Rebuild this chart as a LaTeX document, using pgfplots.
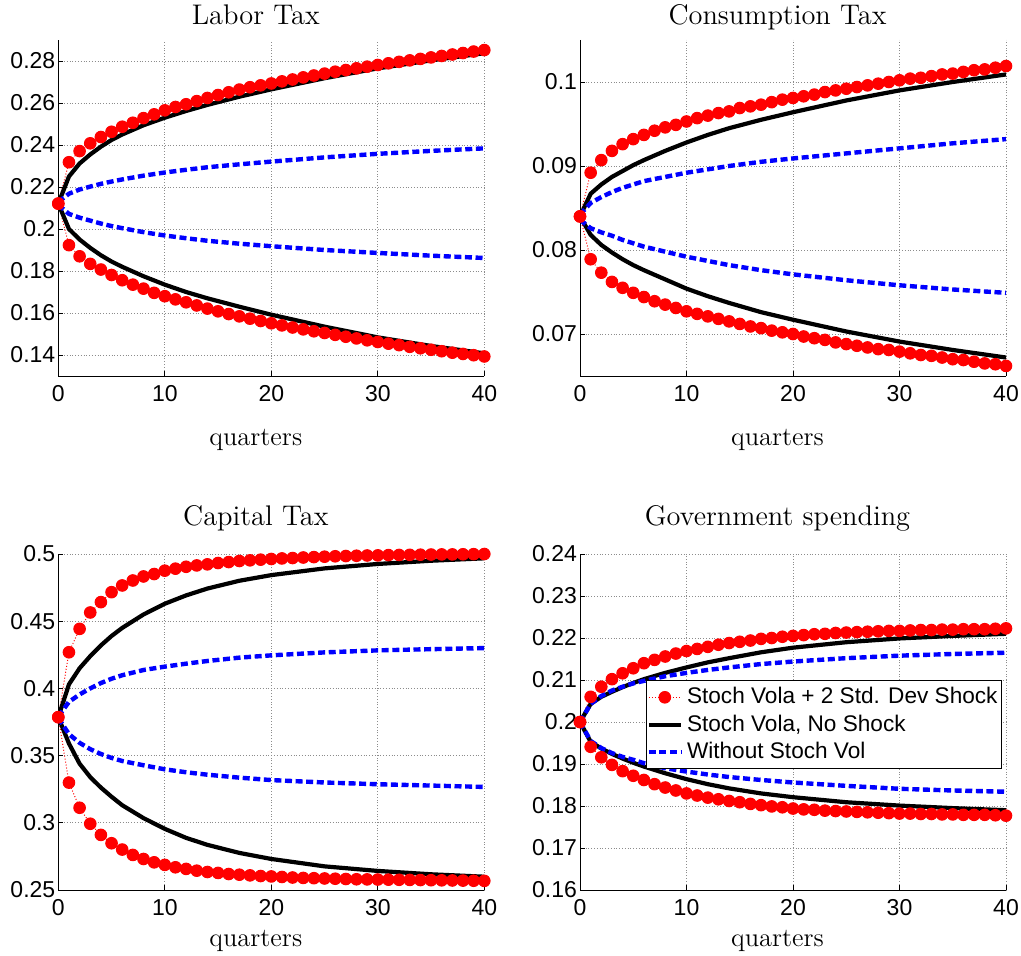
\documentclass[border=0pt]{standalone}
\usepackage{pgfplots}
\pgfplotsset{compat=1.18}
\usepackage{pgfplotstable}
\usepackage{fontspec}
\newfontfamily\hv{Liberation Sans}

% ---------- Labor tax ----------
\pgfplotstableread{
x ru rl
0 0.2121 0.2121
1 0.2318 0.1923
2 0.2371 0.1870
3 0.2408 0.1834
4 0.2438 0.1807
5 0.2463 0.1781
6 0.2487 0.1756
7 0.2506 0.1735
8 0.2528 0.1716
9 0.2546 0.1696
10 0.2565 0.1680
11 0.2581 0.1665
12 0.2594 0.1651
13 0.2609 0.1636
14 0.2624 0.1621
15 0.2638 0.1608
16 0.2651 0.1595
17 0.2664 0.1584
18 0.2675 0.1573
19 0.2684 0.1562
20 0.2693 0.1551
21 0.2703 0.1541
22 0.2712 0.1531
23 0.2722 0.1522
24 0.2731 0.1513
25 0.2740 0.1505
26 0.2749 0.1496
27 0.2757 0.1487
28 0.2765 0.1479
29 0.2773 0.1470
30 0.2781 0.1462
31 0.2789 0.1454
32 0.2796 0.1447
33 0.2803 0.1439
34 0.2810 0.1432
35 0.2817 0.1425
36 0.2824 0.1418
37 0.2831 0.1411
38 0.2838 0.1405
39 0.2845 0.1399
40 0.2852 0.1393
}\labred
\pgfplotstableread{
x su sl wu wl
0 0.2121 0.2121 0.2128 0.2115
1 0.2250 0.2000 0.2168 0.2072
2 0.2312 0.1950 0.2188 0.2054
3 0.2355 0.1910 0.2202 0.2040
4 0.2392 0.1875 0.2215 0.2026
5 0.2424 0.1845 0.2226 0.2014
6 0.2450 0.1820 0.2236 0.2004
8 0.2494 0.1775 0.2254 0.1985
10 0.2530 0.1735 0.2269 0.1969
12 0.2562 0.1700 0.2282 0.1956
14 0.2591 0.1670 0.2294 0.1944
17 0.2630 0.1630 0.2308 0.1930
20 0.2665 0.1592 0.2321 0.1918
25 0.2718 0.1535 0.2341 0.1900
30 0.2765 0.1484 0.2358 0.1886
35 0.2803 0.1443 0.2372 0.1873
40 0.2837 0.1408 0.2384 0.1862
}\labline

% ---------- Consumption tax ----------
\pgfplotstableread{
x ru rl
0 0.0840 0.0840
1 0.0892 0.0789
2 0.0907 0.0773
3 0.0918 0.0762
4 0.0926 0.0755
5 0.0932 0.0749
6 0.0937 0.0744
7 0.0942 0.0739
8 0.0946 0.0735
9 0.0949 0.0731
10 0.0953 0.0727
11 0.0957 0.0724
12 0.0960 0.0721
13 0.0963 0.0718
14 0.0965 0.0715
15 0.0969 0.0712
16 0.0971 0.0709
17 0.0973 0.0707
18 0.0976 0.0704
19 0.0979 0.0702
20 0.0981 0.0700
21 0.0983 0.0697
22 0.0985 0.0695
23 0.0988 0.0693
24 0.0990 0.0690
25 0.0992 0.0688
26 0.0994 0.0686
27 0.0996 0.0684
28 0.0998 0.0682
29 0.1000 0.0681
30 0.1002 0.0679
31 0.1004 0.0677
32 0.1005 0.0675
33 0.1007 0.0674
34 0.1009 0.0672
35 0.1010 0.0670
36 0.1012 0.0669
37 0.1014 0.0667
38 0.1015 0.0665
39 0.1017 0.0664
40 0.1019 0.0662
}\conred
\pgfplotstableread{
x su sl wu wl
0 0.0840 0.0840 0.0842 0.0836
1 0.0867 0.0818 0.0856 0.0826
2 0.0878 0.0806 0.0863 0.0821
3 0.0887 0.0797 0.0869 0.0817
4 0.0894 0.0789 0.0874 0.0812
5 0.0901 0.0782 0.0878 0.0808
6 0.0907 0.0776 0.0882 0.0804
8 0.0918 0.0765 0.0887 0.0798
10 0.0928 0.0754 0.0892 0.0792
12 0.0937 0.0745 0.0896 0.0787
14 0.0945 0.0737 0.0900 0.0782
17 0.0955 0.0726 0.0905 0.0776
20 0.0964 0.0717 0.0909 0.0771
25 0.0978 0.0703 0.0915 0.0764
30 0.0990 0.0691 0.0921 0.0758
35 0.1000 0.0681 0.0927 0.0753
40 0.1009 0.0672 0.0932 0.0749
}\conline

% ---------- Capital tax ----------
\pgfplotstableread{
x ru rl
0 0.3786 0.3786
1 0.4269 0.3299
2 0.4443 0.3112
3 0.4565 0.2993
4 0.4642 0.2910
5 0.4716 0.2848
6 0.4766 0.2801
7 0.4803 0.2761
8 0.4833 0.2731
9 0.4851 0.2706
10 0.4876 0.2687
11 0.4891 0.2669
12 0.4905 0.2657
13 0.4915 0.2644
14 0.4923 0.2634
15 0.4933 0.2627
16 0.4940 0.2619
17 0.4948 0.2614
18 0.4953 0.2609
19 0.4958 0.2604
20 0.4963 0.2601
21 0.4967 0.2597
22 0.4970 0.2593
23 0.4974 0.2590
24 0.4977 0.2588
25 0.4980 0.2586
26 0.4983 0.2584
27 0.4985 0.2582
28 0.4987 0.2580
29 0.4989 0.2579
30 0.4990 0.2578
31 0.4992 0.2577
32 0.4993 0.2576
33 0.4994 0.2575
34 0.4995 0.2574
35 0.4996 0.2573
36 0.4997 0.2572
37 0.4997 0.2571
38 0.4998 0.2570
39 0.4999 0.2569
40 0.5000 0.2568
}\capred
\pgfplotstableread{
x su sl wu wl
0 0.3786 0.3786 0.3790 0.3780
1 0.4030 0.3590 0.3900 0.3660
2 0.4150 0.3440 0.3955 0.3595
3 0.4240 0.3340 0.4000 0.3548
4 0.4320 0.3262 0.4040 0.3512
5 0.4390 0.3194 0.4072 0.3483
6 0.4450 0.3131 0.4098 0.3460
8 0.4550 0.3035 0.4137 0.3428
10 0.4630 0.2955 0.4162 0.3398
12 0.4692 0.2888 0.4184 0.3376
14 0.4743 0.2836 0.4204 0.3358
17 0.4801 0.2776 0.4229 0.3336
20 0.4843 0.2731 0.4246 0.3318
25 0.4893 0.2676 0.4268 0.3300
30 0.4926 0.2642 0.4283 0.3287
35 0.4950 0.2617 0.4292 0.3277
40 0.4968 0.2599 0.4300 0.3267
}\capline

% ---------- Government spending ----------
\pgfplotstableread{
x ru rl
0 0.2000 0.2000
1 0.2060 0.1941
2 0.2084 0.1916
3 0.2102 0.1898
4 0.2116 0.1883
5 0.2128 0.1872
6 0.2140 0.1862
7 0.2148 0.1852
8 0.2156 0.1844
9 0.2163 0.1837
10 0.2169 0.1830
11 0.2174 0.1825
12 0.2179 0.1820
13 0.2184 0.1816
14 0.2188 0.1812
15 0.2191 0.1809
16 0.2194 0.1805
17 0.2198 0.1802
18 0.2200 0.1799
19 0.2203 0.1797
20 0.2205 0.1794
21 0.2207 0.1792
22 0.2209 0.1791
23 0.2210 0.1789
24 0.2212 0.1788
25 0.2213 0.1787
26 0.2214 0.1786
27 0.2215 0.1785
28 0.2216 0.1784
29 0.2217 0.1783
30 0.2217 0.1782
31 0.2218 0.1782
32 0.2219 0.1781
33 0.2219 0.1781
34 0.2220 0.1780
35 0.2220 0.1780
36 0.2221 0.1779
37 0.2221 0.1779
38 0.2221 0.1779
39 0.2222 0.1778
40 0.2223 0.1777
}\govred
\pgfplotstableread{
x su sl wu wl
0 0.2000 0.2000 0.2000 0.2000
1 0.2043 0.1953 0.2043 0.1955
2 0.2060 0.1937 0.2062 0.1938
3 0.2072 0.1924 0.2075 0.1926
4 0.2083 0.1913 0.2084 0.1917
5 0.2093 0.1903 0.2092 0.1910
6 0.2102 0.1894 0.2098 0.1902
8 0.2117 0.1878 0.2109 0.1890
10 0.2130 0.1864 0.2117 0.1882
12 0.2142 0.1852 0.2124 0.1875
14 0.2152 0.1842 0.2130 0.1869
17 0.2166 0.1830 0.2138 0.1862
20 0.2177 0.1821 0.2144 0.1856
25 0.2190 0.1809 0.2152 0.1848
30 0.2199 0.1801 0.2158 0.1841
35 0.2205 0.1795 0.2162 0.1837
40 0.2210 0.1790 0.2165 0.1834
}\govline

\pgfplotsset{
  irf/.style={
    scale only axis, width=213pt, height=168pt,
    xmin=0, xmax=40, xtick={0,10,20,30,40},
    axis x line*=bottom, axis y line*=left,
    axis line style={line width=0.5pt},
    grid=major,
    major grid style={densely dotted, black!45, line width=0.4pt},
    tick align=inside, major tick length=2.5pt,
    tick style={black, line width=0.4pt},
    /pgf/number format/assume math mode=true,
    ticklabel style={font=\hv\fontsize{11.5}{13}\selectfont},
    yticklabel style={/pgf/number format/fixed, /pgf/number format/precision=2, xshift=2pt},
    xticklabel style={yshift=-1pt},
    xlabel={quarters},
    every axis title/.style={at={(0.5,1)}, anchor=base, xshift=-7.75pt,
      font=\fontsize{14.2}{16}\selectfont},
    every axis x label/.style={at={(0.5,0)}, anchor=base, xshift=-7.75pt,
      font=\fontsize{13.2}{15}\selectfont},
    legend image code/.code={%
      \draw[mark repeat=2, mark phase=2] plot coordinates {(0pt,0pt) (8pt,0pt) (16pt,0pt)};},
    clip=false,
  },
  shock/.style={red, densely dotted, line width=0.5pt, mark=*, mark size=2.9pt,
    mark options={solid, fill=red, draw=red}},
  noshock/.style={black, solid, line width=2.1pt, line join=round},
  novol/.style={blue, line width=2.2pt, dash pattern=on 3.5pt off 1.8pt},
}

\begin{document}
\begin{tikzpicture}
\useasboundingbox (0pt,0pt) rectangle (510.5pt,477.5pt);

\begin{axis}[irf, at={(29.15pt,289.5pt)}, anchor=south west,
  ymin=0.13, ymax=0.29, ytick={0.14,0.16,0.18,0.2,0.22,0.24,0.26,0.28},
  title={Labor Tax}, title style={yshift=7.5pt},
  xlabel style={yshift=-34.5pt}]
\addplot[shock] table[x=x, y=ru] {\labred};
\addplot[noshock] table[x=x, y=su] {\labline};
\addplot[novol] table[x=x, y=wu] {\labline};
\addplot[shock] table[x=x, y=rl] {\labred};
\addplot[noshock] table[x=x, y=sl] {\labline};
\addplot[novol] table[x=x, y=wl] {\labline};
\end{axis}

\begin{axis}[irf, at={(290pt,289.5pt)}, anchor=south west,
  ymin=0.065, ymax=0.105, ytick={0.07,0.08,0.09,0.1},
  title={Consumption Tax}, title style={yshift=7.5pt},
  xlabel style={yshift=-34.5pt}]
\addplot[shock] table[x=x, y=ru] {\conred};
\addplot[noshock] table[x=x, y=su] {\conline};
\addplot[novol] table[x=x, y=wu] {\conline};
\addplot[shock] table[x=x, y=rl] {\conred};
\addplot[noshock] table[x=x, y=sl] {\conline};
\addplot[novol] table[x=x, y=wl] {\conline};
\end{axis}

\begin{axis}[irf, at={(29.15pt,32.5pt)}, anchor=south west,
  ymin=0.25, ymax=0.5, ytick={0.25,0.3,0.35,0.4,0.45,0.5},
  title={Capital Tax}, title style={yshift=14.5pt},
  xlabel style={yshift=-28pt}]
\addplot[shock] table[x=x, y=ru] {\capred};
\addplot[noshock] table[x=x, y=su] {\capline};
\addplot[novol] table[x=x, y=wu] {\capline};
\addplot[shock] table[x=x, y=rl] {\capred};
\addplot[noshock] table[x=x, y=sl] {\capline};
\addplot[novol] table[x=x, y=wl] {\capline};
\end{axis}

\begin{axis}[irf, at={(290pt,32.5pt)}, anchor=south west,
  ymin=0.16, ymax=0.24, ytick={0.16,0.17,0.18,0.19,0.2,0.21,0.22,0.23,0.24},
  title={Government spending}, title style={yshift=14.5pt},
  xlabel style={yshift=-28pt},
  legend style={at={(0.155,0.625)}, anchor=north west,
    font=\hv\fontsize{11.3}{13}\selectfont, draw=black, line width=0.6pt, fill=white,
    inner xsep=0pt, inner ysep=1.5pt, row sep=0pt},
  legend cell align=left]
\addplot[shock] table[x=x, y=ru] {\govred};
\addlegendentry{Stoch Vola + 2 Std. Dev Shock}
\addplot[noshock] table[x=x, y=su] {\govline};
\addlegendentry{Stoch Vola, No Shock}
\addplot[novol] table[x=x, y=wu] {\govline};
\addlegendentry{Without Stoch Vol}
\addplot[shock, forget plot] table[x=x, y=rl] {\govred};
\addplot[noshock, forget plot] table[x=x, y=sl] {\govline};
\addplot[novol, forget plot] table[x=x, y=wl] {\govline};
\end{axis}
\end{tikzpicture}
\end{document}
